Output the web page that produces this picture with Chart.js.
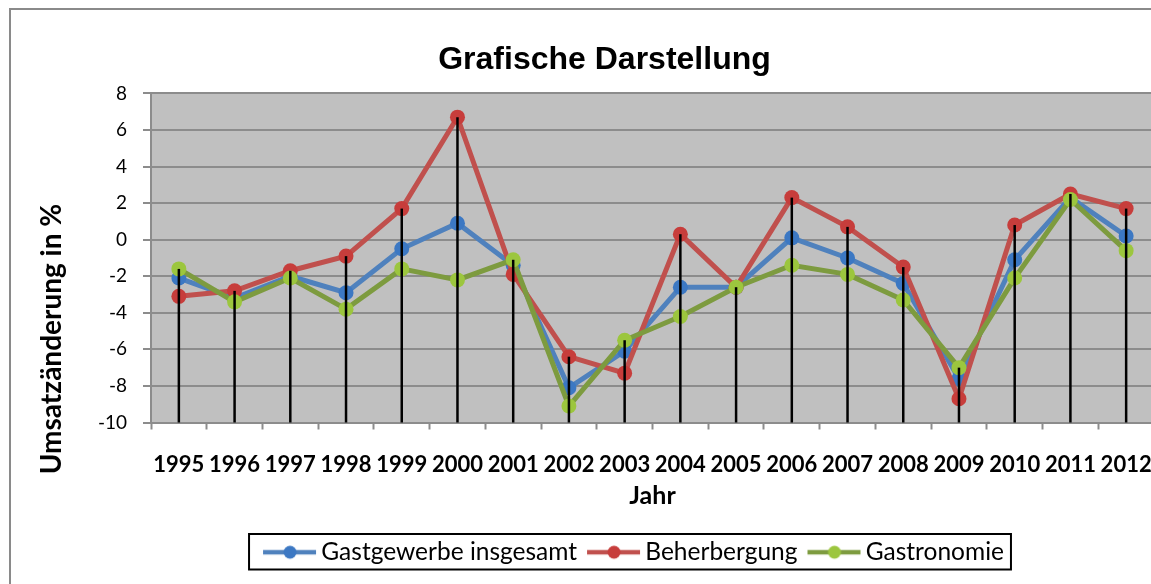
<!DOCTYPE html>
<html>
<head>
<meta charset="utf-8">
<script src="https://cdn.jsdelivr.net/npm/chart.js@4"></script>
<style>
  html, body { margin: 0; padding: 0; background: #fff; overflow: hidden; }
  #frame {
    position: absolute; left: 9px; top: 8px;
    width: 1190px; height: 600px;
    border: 2px solid #8a8a8a;
  }
  #chart { position: absolute; left: 0; top: 0; }
</style>
</head>
<body>
<div id="frame"><canvas id="chart" width="1190" height="574"></canvas></div>
<script>
const jahre = ['1995', '1996', '1997', '1998', '1999', '2000', '2001', '2002', '2003',
  '2004', '2005', '2006', '2007', '2008', '2009', '2010', '2011', '2012'];
const gastgewerbe = [-2.1, -3.2, -2.0, -2.9, -0.5, 0.9, -1.4, -8.1, -6.1, -2.6, -2.6, 0.1, -1.0, -2.4, -7.6, -1.1, 2.3, 0.2];
const beherbergung = [-3.1, -2.8, -1.7, -0.9, 1.7, 6.7, -1.9, -6.4, -7.3, 0.3, -2.6, 2.3, 0.7, -1.5, -8.7, 0.8, 2.5, 1.7];
const gastronomie = [-1.6, -3.4, -2.1, -3.8, -1.6, -2.2, -1.1, -9.1, -5.5, -4.2, -2.6, -1.4, -1.9, -3.3, -7.0, -2.1, 2.2, -0.6];
const yTicks = [8, 6, 4, 2, 0, -2, -4, -6, -8, -10];

const serien = [
  { label: 'Gastgewerbe insgesamt', data: gastgewerbe, line: '#4f81bd', dot: '#3c78c3', order: 3 },
  { label: 'Beherbergung', data: beherbergung, line: '#c0504d', dot: '#c73d3b', order: 2 },
  { label: 'Gastronomie', data: gastronomie, line: '#7d9b3f', dot: '#9cc63e', order: 1 }
];

// kleines Symbol (Linie mit Punkt) fuer die Legende
function legendIcon(s) {
  const c = document.createElement('canvas');
  c.width = 64; c.height = 18;
  const g = c.getContext('2d');
  g.strokeStyle = s.line; g.lineWidth = 4.5;
  g.beginPath(); g.moveTo(10, 9); g.lineTo(63, 9); g.stroke();
  g.fillStyle = s.dot;
  g.beginPath(); g.arc(37, 9, 6.5, 0, Math.PI * 2); g.fill();
  return c;
}

const grau = '#8c8c8c';

const plotBg = {
  id: 'plotBg',
  beforeDraw(chart) {
    const a = chart.chartArea, ctx = chart.ctx;
    ctx.save();
    ctx.fillStyle = '#c0c0c0';
    ctx.fillRect(a.left, a.top, a.right - a.left, a.bottom - a.top);
    ctx.restore();
  }
};

// Lotlinien vom hoechsten Punkt bis zur x-Achse
const dropLines = {
  id: 'dropLines',
  afterDatasetsDraw(chart) {
    const ctx = chart.ctx;
    const metas = chart.data.datasets.map((d, i) => chart.getDatasetMeta(i));
    ctx.save();
    ctx.strokeStyle = '#000';
    ctx.lineWidth = 2.5;
    for (let i = 0; i < jahre.length; i++) {
      const top = Math.min(...metas.map(m => m.data[i].y));
      const x = metas[0].data[i].x;
      ctx.beginPath();
      ctx.moveTo(x, top);
      ctx.lineTo(x, chart.chartArea.bottom);
      ctx.stroke();
    }
    ctx.restore();
  }
};

const extras = {
  id: 'extras',
  afterLayout(chart) {
    chart.titleBlock.left += 22; chart.titleBlock.right += 22;
    chart.legend.left += 50; chart.legend.right += 50;
  },
  afterDraw(chart) {
    const ctx = chart.ctx;
    ctx.save();
    // y-Achsentitel
    ctx.translate(41, 329);
    ctx.rotate(-Math.PI / 2);
    ctx.font = 'bold 28px Lato';
    ctx.fillStyle = '#000';
    ctx.textAlign = 'center';
    ctx.textBaseline = 'middle';
    ctx.fillText('Umsatzänderung in %', 0, 0);
    ctx.restore();
    // Rahmen um die Legende
    const boxes = chart.legend.legendHitBoxes;
    if (boxes && boxes.length) {
      const l = Math.min(...boxes.map(b => b.left)) - 12;
      const r = Math.max(...boxes.map(b => b.left + b.width)) + 7;
      const t = Math.min(...boxes.map(b => b.top)) - 6;
      const b = Math.max(...boxes.map(b => b.top + b.height)) + 5;
      ctx.save();
      ctx.strokeStyle = '#000';
      ctx.lineWidth = 2;
      ctx.strokeRect(l, t, r - l, b - t);
      ctx.restore();
    }
  }
};

new Chart(document.getElementById('chart').getContext('2d'), {
  type: 'line',
  data: {
    labels: jahre,
    datasets: serien.map(s => ({
      label: s.label,
      data: s.data,
      borderColor: s.line,
      backgroundColor: s.dot,
      pointBackgroundColor: s.dot,
      pointBorderColor: s.dot,
      borderWidth: 5,
      pointRadius: 7.5,
      pointBorderWidth: 0,
      tension: 0,
      order: s.order
    }))
  },
  options: {
    responsive: false,
    animation: false,
    layout: { padding: { left: 0, right: 47, top: 0, bottom: 9.5 } },
    plugins: {
      title: {
        display: true,
        text: 'Grafische Darstellung',
        color: '#000',
        font: { family: 'Liberation Sans', size: 32, weight: 'bold' },
        padding: { top: 31, bottom: 14 }
      },
      legend: {
        display: true,
        position: 'bottom',
        labels: {
          color: '#000',
          font: { family: 'Lato', size: 24.5 },
          usePointStyle: true,
          pointStyleWidth: 48,
          boxHeight: 18,
          padding: 8,
          generateLabels: () => serien.map((s, i) => ({
            text: s.label,
            pointStyle: legendIcon(s),
            fillStyle: s.dot,
            strokeStyle: s.dot,
            lineWidth: 0,
            hidden: false,
            datasetIndex: i
          }))
        }
      },
      tooltip: { enabled: false }
    },
    scales: {
      x: {
        offset: true,
        grid: { drawOnChartArea: false, offset: true, tickLength: 7, tickColor: grau, tickWidth: 2 },
        border: { color: grau, width: 2 },
        ticks: {
          color: '#000', autoSkip: false, maxRotation: 0, padding: 22,
          font: { family: 'Lato', size: 22, weight: 'bold' }
        },
        title: {
          display: true, text: 'Jahr', color: '#000',
          font: { family: 'Lato', size: 25, weight: 'bold' },
          padding: { top: 4, bottom: 21 }
        },
        afterFit(scale) { scale.height = 109.5; }
      },
      y: {
        min: -10,
        max: 8,
        afterBuildTicks(scale) { scale.ticks = yTicks.map(v => ({ value: v })); },
        grid: { color: grau, lineWidth: 2, tickLength: 8, tickColor: grau },
        border: { color: grau, width: 2 },
        ticks: {
          color: '#000', padding: 16,
          font: { family: 'Lato', size: 19 }
        },
        afterFit(scale) { scale.width = 140; }
      }
    }
  },
  plugins: [plotBg, dropLines, extras]
});
</script>
</body>
</html>
